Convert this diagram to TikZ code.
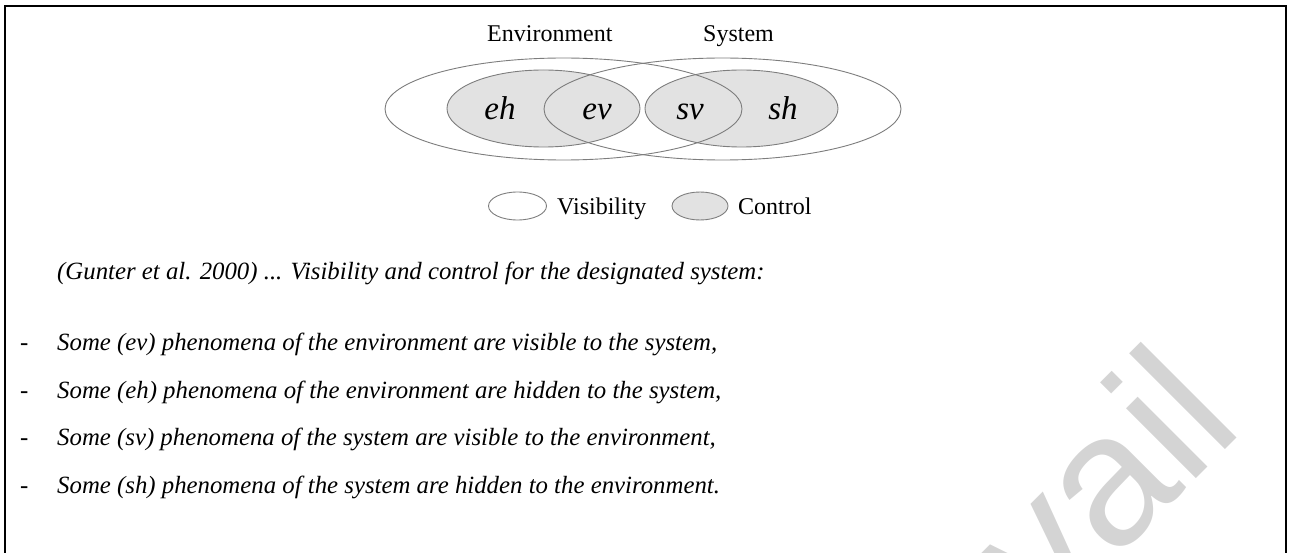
\documentclass[tikz,border=0pt]{standalone}
\usepackage{fontspec}
\setmainfont{Liberation Serif}
\newfontfamily\wmfont{Liberation Sans}
\usetikzlibrary{shapes.geometric}
\definecolor{ecol}{RGB}{125,125,125}
\definecolor{cfill}{RGB}{226,226,226}
\definecolor{wmgray}{RGB}{212,212,212}
\begin{document}
\begin{tikzpicture}[x=1pt,y=-1pt,
  oval/.style={ellipse, inner sep=0pt, draw=ecol, line width=0.9pt},
  ctl/.style={oval, fill=cfill},
  diag/.style={inner sep=0pt, font=\fontsize{24}{24}\selectfont},
  var/.style={inner sep=0pt, font=\fontsize{33}{33}\selectfont\itshape},
  body/.style={inner sep=0pt, anchor=base west, font=\fontsize{24.8}{24.8}\selectfont\itshape},
  dashmark/.style={inner sep=0pt, anchor=base west, font=\fontsize{24.8}{24.8}\selectfont}]
\useasboundingbox (0,0) rectangle (1289,553);
% watermark
\begin{scope}
\clip (0,0) rectangle (1289,553);
\node[rotate=45, anchor=base east, inner sep=0pt, text=wmgray,
      font=\wmfont\fontsize{187}{187}\selectfont] (wm) at (1246,429) {avail};
\end{scope}
% frame
\draw[line width=2pt] (5,560) -- (5,6.3) -- (1286.3,6.3) -- (1286.3,560);
% diagram titles
\node[diag, anchor=base west] (envt) at (487,42) {Environment};
\node[diag, anchor=base west] (syst) at (703,42) {System};
% control ellipses
\node[ctl, minimum width=193pt, minimum height=77pt] (envctl) at (543.5,108.5) {};
\node[ctl, minimum width=193pt, minimum height=77pt] (sysctl) at (741.5,108.5) {};
% visibility ellipses
\node[oval, minimum width=357pt, minimum height=102pt] (envvis) at (563.5,109) {};
\node[oval, minimum width=357pt, minimum height=102pt] (sysvis) at (722.5,109) {};
% region labels
\node[var, anchor=base] (eh) at (500,120) {eh};
\node[var, anchor=base] (ev) at (597,120) {ev};
\node[var, anchor=base] (sv) at (690,120) {sv};
\node[var, anchor=base] (sh) at (783,120) {sh};
% legend
\node[oval, minimum width=58pt, minimum height=28pt] (legvis) at (517.5,206) {};
\node[diag, anchor=base west] (legvist) at (557,215) {Visibility};
\node[ctl, minimum width=56pt, minimum height=28pt] (legctl) at (700,206) {};
\node[diag, anchor=base west] (legctlt) at (738,215) {Control};
% text
\node[body] (cap) at (57,279) {(Gunter et al. 2000) ... Visibility and control for the designated system:};
\node[dashmark] (d1) at (20,350) {-};
\node[body] (l1) at (57,350) {Some (ev) phenomena of the environment are visible to the system,};
\node[dashmark] (d2) at (20,398) {-};
\node[body] (l2) at (57,398) {Some (eh) phenomena of the environment are hidden to the system,};
\node[dashmark] (d3) at (20,445.5) {-};
\node[body] (l3) at (57,445.5) {Some (sv) phenomena of the system are visible to the environment,};
\node[dashmark] (d4) at (20,493) {-};
\node[body] (l4) at (57,493) {Some (sh) phenomena of the system are hidden to the environment.};
\end{tikzpicture}
\end{document}
